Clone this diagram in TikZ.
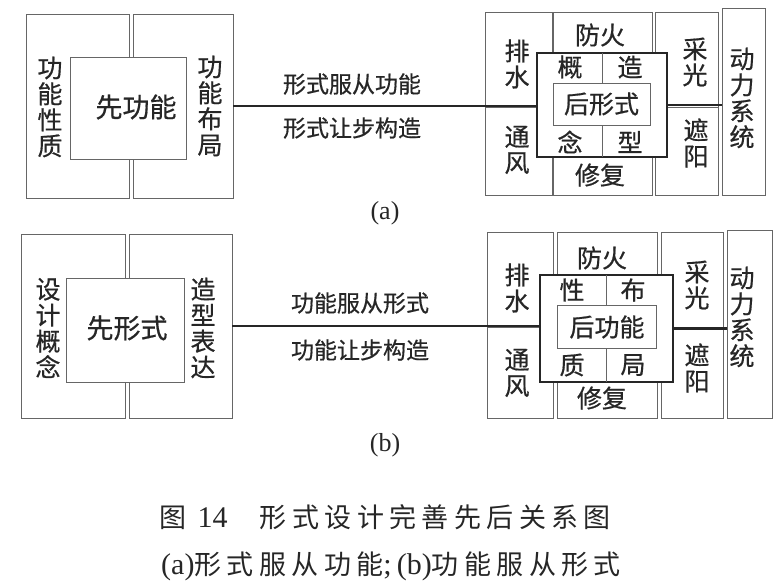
\documentclass[tikz,border=0pt]{standalone}
\usepackage{fontspec}
\setmainfont[FakeBold=0.6]{Noto Sans CJK SC}
\newfontfamily\lat{Liberation Serif}
\newfontfamily\capfont[LetterSpace=20]{Noto Sans CJK SC}
\tikzset{>=latex}
\colorlet{boxcol}{black!60}
\colorlet{inkcol}{black!85}
\tikzstyle{cell}=[draw=boxcol,line width=0.8pt,inner sep=0,outer sep=0]
\tikzstyle{core}=[draw=inkcol,line width=1.6pt,fill=white,inner sep=0,outer sep=0]
\tikzstyle{inner}=[draw=boxcol,line width=0.8pt,fill=white,inner sep=0,outer sep=0]
\tikzstyle{word}=[inner sep=0,align=center,text=inkcol,font=\fontsize{25}{26}\selectfont]
\tikzstyle{big}=[word,font=\fontsize{27}{28}\selectfont]
\tikzstyle{small}=[word,font=\fontsize{23}{24}\selectfont]
\tikzstyle{link}=[line width=2.6pt,inkcol]

\begin{document}
\begin{tikzpicture}[x=1pt,y=-1pt]
  \useasboundingbox (0,0) rectangle (780,585);
  % (a)
  \node[cell,minimum width=103,minimum height=184] (aL) at (77.5,106) {};
  \node[cell,minimum width=100,minimum height=184] (aR) at (183,106) {};
  \node[cell,fill=white,minimum width=116,minimum height=102] (aC) at (128,108) {};
  \node[word] (aLt) at (50,107) {功\\能\\性\\质};
  \node[word] (aRt) at (210,106) {功\\能\\布\\局};
  \node[big] (aCt) at (136,107) {先功能};
  \node[cell,minimum width=67,minimum height=95] (aP) at (518.5,59.5) {};
  \node[cell,minimum width=67,minimum height=88] (aT) at (518.5,151) {};
  \node[cell,minimum width=99,minimum height=95] (aF) at (602.5,59.5) {};
  \node[cell,minimum width=99,minimum height=88] (aX) at (602.5,151) {};
  \node[cell,minimum width=63,minimum height=95] (aG) at (686.5,59.5) {};
  \node[cell,minimum width=63,minimum height=88] (aZ) at (686.5,151) {};
  \node[cell,minimum width=43,minimum height=187] (aD) at (743.5,101.5) {};
  \node[core,minimum width=130,minimum height=104] (aK) at (602,105) {};
  \draw[boxcol,line width=0.8pt] (aK.north) -- (aK.south);
  \node[inner,minimum width=97,minimum height=42] (aI) at (601.5,104) {};
  \draw[link] (aR.east) -- (aR.east -| aK.west);
  \draw[link] (aK.east) -- (aK.east -| aD.west);
  \node[small] (aUp) at (352,84) {形式服从功能};
  \node[small] (aDn) at (352,128) {形式让步构造};
  \node[word] (aPt) at (517,64) {排\\水};
  \node[word] (aTt) at (517,150) {通\\风};
  \node[word] (aFt) at (600,35) {防火};
  \node[word] (aXt) at (600,175) {修复};
  \node[word] (aGt) at (695,62) {采\\光};
  \node[word] (aZt) at (696,143) {遮\\阳};
  \node[word] (aDt) at (742,98) {动\\力\\系\\统};
  \node[word] (aK1) at (570,67) {概};
  \node[word] (aK2) at (630,67) {造};
  \node[word] (aK3) at (570,142) {念};
  \node[word] (aK4) at (630,142) {型};
  \node[word] (aIt) at (601.5,104) {后形式};
  \node[word,font=\lat\fontsize{26}{26}\selectfont] (aLab) at (385,213) {(a)};
  % (b)
  \node[cell,minimum width=104,minimum height=184] (bL) at (73,326) {};
  \node[cell,minimum width=103,minimum height=184] (bR) at (180.5,326) {};
  \node[cell,fill=white,minimum width=118,minimum height=104] (bC) at (125,330) {};
  \node[word] (bLt) at (48,328) {设\\计\\概\\念};
  \node[word] (bRt) at (203,328) {造\\型\\表\\达};
  \node[big] (bCt) at (127,328) {先形式};
  \node[cell,minimum width=66,minimum height=95] (bP) at (520,279.5) {};
  \node[cell,minimum width=66,minimum height=91] (bT) at (520,372.5) {};
  \node[cell,minimum width=100,minimum height=95] (bF) at (607,279.5) {};
  \node[cell,minimum width=100,minimum height=91] (bX) at (607,372.5) {};
  \node[cell,minimum width=62,minimum height=95] (bG) at (692,279.5) {};
  \node[cell,minimum width=62,minimum height=91] (bZ) at (692,372.5) {};
  \node[cell,minimum width=45,minimum height=188] (bD) at (749.5,324) {};
  \node[core,minimum width=133,minimum height=107] (bK) at (606.5,328.5) {};
  \draw[boxcol,line width=0.8pt] (bK.north) -- (bK.south);
  \node[inner,minimum width=99,minimum height=43] (bI) at (606.5,326.5) {};
  \draw[link] (bR.east) -- (bR.east -| bK.west);
  \draw[link] (bK.east) -- (bK.east -| bD.west);
  \node[small] (bUp) at (360,303) {功能服从形式};
  \node[small] (bDn) at (360,350) {功能让步构造};
  \node[word] (bPt) at (517,288) {排\\水};
  \node[word] (bTt) at (517,373) {通\\风};
  \node[word] (bFt) at (602,258) {防火};
  \node[word] (bXt) at (602,398) {修复};
  \node[word] (bGt) at (697,285) {采\\光};
  \node[word] (bZt) at (697,368) {遮\\阳};
  \node[word] (bDt) at (742,317) {动\\力\\系\\统};
  \node[word] (bK1) at (572,290) {性};
  \node[word] (bK2) at (633,290) {布};
  \node[word] (bK3) at (572,365) {质};
  \node[word] (bK4) at (633,365) {局};
  \node[word] (bIt) at (607,327) {后功能};
  \node[word,font=\lat\fontsize{26}{26}\selectfont] (bLab) at (385,445) {(b)};
  % caption
  \node[word,font=\fontsize{27}{28}\selectfont] (cap1) at (385,517)
    {\capfont 图 {\lat\fontsize{30}{30}\selectfont 14}\hspace{1.2em}形式设计完善先后关系图};
  \node[word,font=\fontsize{27}{28}\selectfont] (cap2) at (391,566)
    {\capfont{\lat\fontsize{30}{30}\selectfont (a)}形式服从功能{\lat\fontsize{30}{30}\selectfont ;\,(b)}功能服从形式};
\end{tikzpicture}
\end{document}
